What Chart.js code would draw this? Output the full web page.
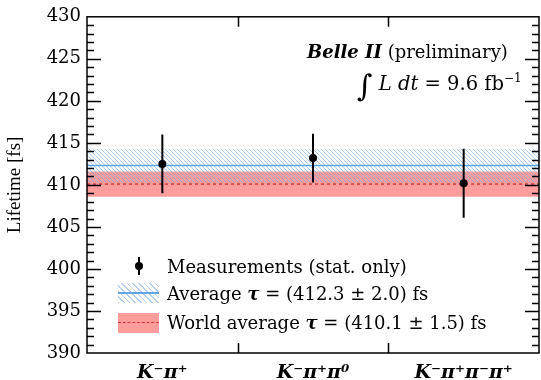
<!DOCTYPE html>
<html>
<head>
<meta charset="utf-8">
<script src="https://cdn.jsdelivr.net/npm/chart.js@4.4.1/dist/chart.umd.min.js"></script>
<style>
  html, body { margin: 0; padding: 0; background: #fff; overflow: hidden; }
  #wrap { position: relative; width: 541px; height: 380px; overflow: hidden; }
  #c { position: absolute; left: 0; top: 0; }
  .t { position: absolute; font-family: "DejaVu Serif", serif; font-size: 18px; color: #000; white-space: nowrap; line-height: 1; }
  .bi { font-weight: bold; font-style: italic; }
  .it { font-style: italic; }
  sup { font-size: 12px; vertical-align: 8px; line-height: 0; }
  .sw { position: absolute; }
</style>
</head>
<body>
<div id="wrap">
  <canvas id="c" width="543" height="380"></canvas>

  <div class="t" style="left:307px; top:43px;"><span class="bi">Belle II</span> (preliminary)</div>
  <div class="t" style="left:357px; top:71px; font-size:19.5px;"><span style="font-size:30px; vertical-align:-6px;">&#8747;</span> <span class="it">L dt</span> = 9.6 fb<sup>&minus;1</sup></div>

  <!-- legend -->
  <div class="sw" style="left:138px; top:257px; width:2px; height:18px; background:#000;"></div>
  <div class="sw" style="left:135px; top:262px; width:8px; height:8px; border-radius:50%; background:#000;"></div>
  <div class="t" style="left:167px; top:258px;">Measurements (stat. only)</div>

  <div class="sw" style="left:118px; top:283px; width:41px; height:20px; background:repeating-linear-gradient(45deg, rgba(120,170,225,0.55) 0 1px, transparent 1px 4px);"></div>
  <div class="sw" style="left:118px; top:292px; width:41px; height:2px; background:#5ea6e6;"></div>
  <div class="t" style="left:167px; top:285px;">Average <span class="bi">&tau;</span> = (412.3 &plusmn; 2.0) fs</div>

  <div class="sw" style="left:118px; top:313px; width:41px; height:20px; background:#ff9c9c;"></div>
  <div class="sw" style="left:118px; top:322px; width:41px; height:0; border-top:1.5px dashed #d23a3a;"></div>
  <div class="t" style="left:167px; top:314px;">World average <span class="bi">&tau;</span> = (410.1 &plusmn; 1.5) fs</div>
</div>

<script>
  // decay channels, one category each along x
  const CATEGORIES = ["K\u207B\u03C0\u207A", "K\u207B\u03C0\u207A\u03C0\u2070", "K\u207B\u03C0\u207A\u03C0\u207B\u03C0\u207A"];
  const CATEGORY_X = [0.5, 1.5, 2.5];
  const CATEGORY_EDGES = [1, 2];

  // measured lifetimes [fs] with stat. errors
  const LIFETIMES = [412.5, 413.2, 410.2];
  const STAT_ERRORS = [3.5, 2.9, 4.1];

  // combined average and world average [fs]
  const AVERAGE = [412.3];
  const AVERAGE_ERR = [2.0];
  const WORLD_AVG = [410.1];
  const WORLD_ERR = [1.5];

  const Y_MIN = 390;
  const Y_MAX = 430;
  const Y_STEP = 5;

  const X_MIN = 0;
  const X_MAX = 3;

  // light blue diagonal hatch for the average band
  function hatchPattern() {
    const p = document.createElement("canvas");
    p.width = 4;
    p.height = 4;
    const g = p.getContext("2d");
    g.strokeStyle = "rgba(120, 170, 225, 0.6)";
    g.lineWidth = 1;
    g.beginPath();
    g.moveTo(0, 0); g.lineTo(4, 4);
    g.moveTo(-1, 3); g.lineTo(1, 5);
    g.moveTo(3, -1); g.lineTo(5, 1);
    g.stroke();
    return g.createPattern(p, "repeat");
  }

  function hline(y) {
    return [{ x: X_MIN, y: y }, { x: X_MAX, y: y }];
  }

  const datasets = [];

  // world average band + dashed central value
  datasets.push({
    data: hline(WORLD_AVG[0] + WORLD_ERR[0]),
    showLine: true, borderWidth: 0, pointRadius: 0,
    backgroundColor: "#ff9c9c",
    fill: { value: WORLD_AVG[0] - WORLD_ERR[0] },
    order: 6,
  });
  datasets.push({
    data: hline(WORLD_AVG[0]),
    showLine: true, borderWidth: 1.5, borderColor: "#d23a3a", borderDash: [3, 3], pointRadius: 0,
    order: 5,
  });

  // average band (hatched) + solid central value
  datasets.push({
    data: hline(AVERAGE[0] + AVERAGE_ERR[0]),
    showLine: true, borderWidth: 0, pointRadius: 0,
    backgroundColor: hatchPattern(),
    fill: { value: AVERAGE[0] - AVERAGE_ERR[0] },
    order: 4,
  });
  datasets.push({
    data: hline(AVERAGE[0]),
    showLine: true, borderWidth: 1.5, borderColor: "#5ea6e6", pointRadius: 0,
    order: 3,
  });

  // error bars, one two-point segment per channel
  LIFETIMES.forEach((v, i) => {
    datasets.push({
      data: [{ x: CATEGORY_X[i], y: v - STAT_ERRORS[i] }, { x: CATEGORY_X[i], y: v + STAT_ERRORS[i] }],
      showLine: true, borderWidth: 2, borderColor: "#000", pointRadius: 0,
      order: 2,
    });
  });

  // measurement markers
  datasets.push({
    data: LIFETIMES.map((v, i) => ({ x: CATEGORY_X[i], y: v })),
    pointRadius: 4, pointBackgroundColor: "#000", pointBorderWidth: 0,
    order: 1,
  });

  // frame and inward tick marks on all four sides
  const frameTicks = {
    id: "frameTicks",
    afterDatasetsDraw(chart) {
      const { ctx, chartArea: a, scales } = chart;
      const ys = scales.y;
      const xs = scales.x;
      ctx.save();
      ctx.strokeStyle = "#000";
      ctx.lineWidth = 1.5;
      ctx.strokeRect(a.left, a.top, a.right - a.left, a.bottom - a.top);
      ctx.beginPath();
      for (let v = Y_MIN + 1; v < Y_MAX; v++) {
        const y = Math.round(ys.getPixelForValue(v)) + 0.5;
        const len = v % Y_STEP === 0 ? 14 : 7;
        ctx.moveTo(a.left, y); ctx.lineTo(a.left + len, y);
        ctx.moveTo(a.right, y); ctx.lineTo(a.right - len, y);
      }
      CATEGORY_EDGES.forEach((e) => {
        const x = Math.round(xs.getPixelForValue(e)) + 0.5;
        ctx.moveTo(x, a.bottom); ctx.lineTo(x, a.bottom - 10);
        ctx.moveTo(x, a.top); ctx.lineTo(x, a.top + 10);
      });
      ctx.stroke();
      ctx.restore();
    },
  };

  new Chart(document.getElementById("c"), {
    type: "scatter",
    data: { datasets: datasets },
    plugins: [frameTicks],
    options: {
      responsive: false,
      animation: false,
      events: [],
      layout: { padding: { top: 15, right: 1, bottom: 0, left: 0 } },
      plugins: { legend: { display: false }, tooltip: { enabled: false } },
      scales: {
        x: {
          type: "linear",
          min: X_MIN,
          max: X_MAX,
          afterBuildTicks(scale) {
            scale.ticks = CATEGORY_X.map((v) => ({ value: v }));
          },
          afterFit(scale) { scale.height = 27; },
          grid: { display: false, drawTicks: false },
          border: { display: false },
          ticks: {
            padding: 9,
            color: "#000",
            font: { family: "DejaVu Serif", size: 19, style: "italic", weight: "bold" },
            callback: (v, i) => CATEGORIES[i],
          },
        },
        y: {
          min: Y_MIN,
          max: Y_MAX,
          afterFit(scale) { scale.width = 87; },
          grid: { display: false, drawTicks: false },
          border: { display: false },
          ticks: {
            stepSize: Y_STEP,
            padding: 6,
            color: "#000",
            font: { family: "DejaVu Serif", size: 18 },
          },
          title: {
            display: true,
            text: "Lifetime [fs]",
            color: "#000",
            padding: { top: 4, bottom: 0 },
            font: { family: "Liberation Serif", size: 19 },
          },
        },
      },
    },
  });
</script>
</body>
</html>
